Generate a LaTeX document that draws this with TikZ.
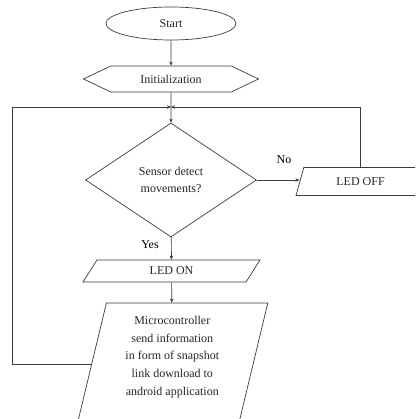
\documentclass[tikz,border=0pt]{standalone}
\usepackage{fontspec}
\setmainfont{Liberation Serif}
\usepackage{tikz}
\usetikzlibrary{shapes.geometric, shapes.symbols, arrows.meta, positioning, calc}
\definecolor{mydark}{RGB}{60,60,60}
\tikzset{
  box/.style={draw=mydark, line width=0.7pt, font=\fontsize{12}{17.7}\selectfont,
    align=center, inner sep=0pt, text=black!85},
  para/.style={box, trapezium, trapezium stretches body},
  arrow/.style={-{Stealth[length=4pt, width=3.5pt]}, line width=0.7pt, color=mydark},
  line/.style={line width=0.7pt, color=mydark}
}
\begin{document}
\begin{tikzpicture}[x=1pt, y=-1pt]
  \clip (0,0) rectangle (415,419);
  \fill[white] (0,0) rectangle (415,419);

  % Shapes
  \node[box, ellipse, minimum width=130pt, minimum height=33pt] (start) at (171,23.5) {Start};
  \node[box, signal, signal to=west and east, signal pointer angle=51,
    minimum width=175pt, minimum height=26pt] (init) at (171,79) {Initialization};
  \node[box, diamond, minimum width=171pt, minimum height=114pt] (sensor) at (171,180)
    {Sensor detect\\movements?};
  \node[para, trapezium left angle=46, trapezium right angle=134,
    minimum width=129pt, minimum height=28pt] (ledoff) at (360.5,181.5) {LED OFF};
  \node[para, trapezium left angle=30, trapezium right angle=150,
    minimum width=177pt, minimum height=22pt] (ledon) at (171.5,271) {LED ON};
  \node[para, trapezium left angle=73, trapezium right angle=107,
    minimum width=191pt, minimum height=123pt] (micro) at (172.3,364.5)
    {Microcontroller\\send information\\in form of snapshot\\link download to\\android application\\ };

  % Labels
  \node[font=\fontsize{12}{14}\selectfont] (no) at (284,160) {No};
  \node[font=\fontsize{12}{14}\selectfont] (yes) at (150,245) {Yes};

  % Connectors
  \coordinate (join) at (171,107);
  \coordinate (loopl) at (12,107);
  \draw[arrow] (start) -- (init);
  \draw[arrow] (init) -- (sensor);
  \draw[arrow] (sensor.east) -- (sensor.east -| ledoff.west);
  \draw[arrow] (sensor) -- (ledon);
  \draw[arrow] (ledon) -- (micro);
  \draw[arrow] (micro.west) -| (loopl) -- (join);
  \draw[arrow] (ledoff.north) |- (join);
\end{tikzpicture}
\end{document}
